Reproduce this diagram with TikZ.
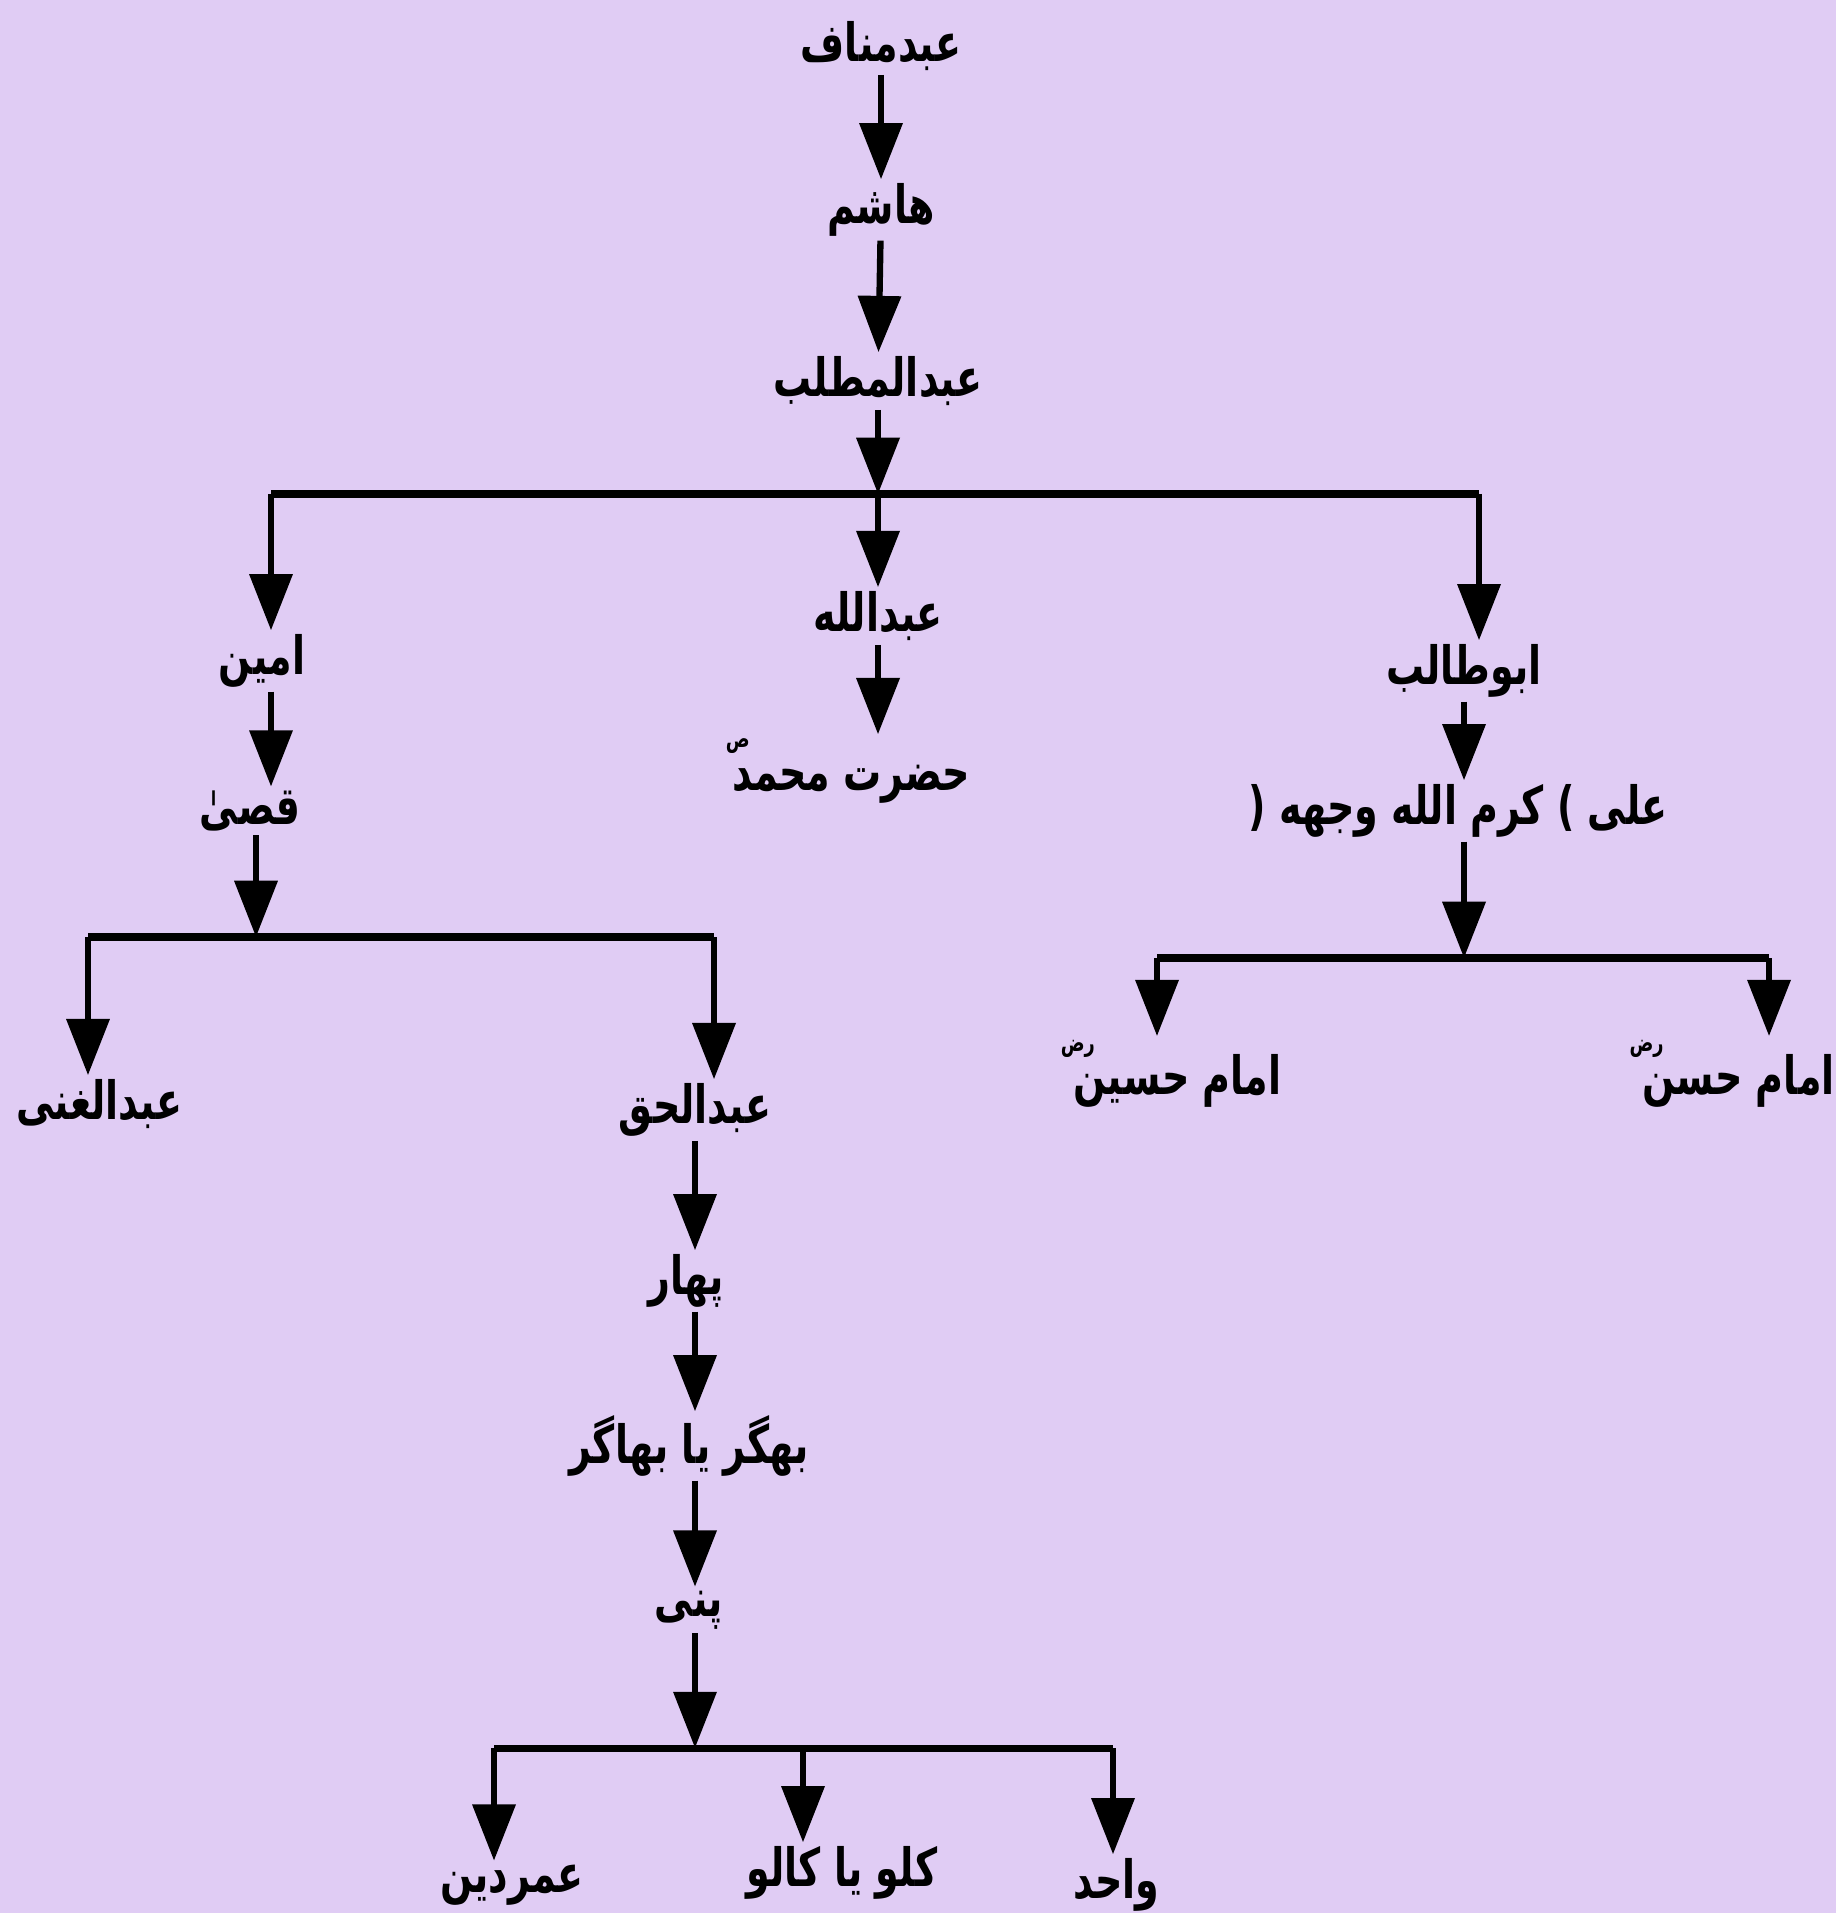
\documentclass[tikz,border=0pt]{standalone}
\usepackage{fontspec}
\newfontfamily\urdufont[Script=Arabic, FakeStretch=0.72]{DejaVu Sans}
\TeXXeTstate=1
\usetikzlibrary{arrows.meta}
\definecolor{lavender}{RGB}{224,204,244}
\newcommand{\sallam}{\kern-5pt\raisebox{1.5ex}{\fontsize{7}{7}\selectfont ص}}
\newcommand{\raziya}{\kern-6pt\raisebox{1.5ex}{\fontsize{7}{7}\selectfont رض}}

\begin{document}
\begin{tikzpicture}[x=0.01cm, y=-0.01cm,
    person/.style={font=\urdufont\bfseries\fontsize{15}{18}\selectfont, inner sep=1pt},
    link/.style={line width=1.8pt, -{Triangle[width=12pt,length=16pt]}},
    bar/.style={line width=2pt}]
    \fill[lavender] (0,0) rectangle (1836,1913);
    \useasboundingbox (0,0) rectangle (1836,1913);
    % main line
    \node[person] (manaf) at (881,46) {\beginR عبدمناف\endR};
    \node[person] (hashim) at (881,210) {\beginR هاشم\endR};
    \node[person] (muttalib) at (878,381) {\beginR عبدالمطلب\endR};
    \coordinate (b1) at (878,494);
    \coordinate (b1l) at (271,494);
    \coordinate (b1r) at (1479,494);
    \draw[link] (manaf) -- (hashim);
    \draw[link] (hashim) -- (muttalib);
    \draw[link] (muttalib) -- (b1);
    \draw[bar] (b1l) -- (b1r);
    % left branch
    \node[person] (amin) at (262,661) {\beginR امین\endR};
    \node[person] (qusai) at (250,811) {\beginR قصیٰ\endR};
    \coordinate (b2) at (256,937);
    \coordinate (b2l) at (88,937);
    \coordinate (b2r) at (714,937);
    \node[person, anchor=west] (ghani) at (12,1104) {\beginR عبدالغنی\endR};
    \node[person] (haq) at (695,1110) {\beginR عبدالحق\endR};
    \node[person] (pahar) at (686,1281) {\beginR پهار\endR};
    \node[person] (bhagar) at (689,1446) {\beginR بھگر یا بھاگر\endR};
    \node[person] (panni) at (689,1610) {\beginR پنی\endR};
    \coordinate (b3) at (695,1748);
    \coordinate (b3l) at (494,1748);
    \coordinate (b3m) at (803,1748);
    \coordinate (b3r) at (1113,1748);
    \node[person] (umardin) at (512,1885) {\beginR عمردین\endR};
    \node[person] (kallu) at (842,1873) {\beginR کلو یا کالو\endR};
    \node[person] (wahid) at (1116,1885) {\beginR واحد\endR};
    \draw[link] (b1l) -- (b1l |- amin.north);
    \draw[link] (amin.south -| b1l) -- (b1l |- qusai.north);
    \draw[link] (qusai.south -| b2) -- (b2);
    \draw[bar] (b2l) -- (b2r);
    \draw[link] (b2l) -- (b2l |- ghani.north);
    \draw[link] (b2r) -- (b2r |- haq.north);
    \draw[link] (haq.south -| b3) -- (b3 |- pahar.north);
    \draw[link] (pahar.south -| b3) -- (b3 |- bhagar.north);
    \draw[link] (bhagar.south -| b3) -- (b3 |- panni.north);
    \draw[link] (panni.south -| b3) -- (b3);
    \draw[bar] (b3l) -- (b3r);
    \draw[link] (b3l) -- (b3l |- umardin.north);
    \draw[link] (b3m) -- (b3m |- kallu.north);
    \draw[link] (b3r) -- (b3r |- wahid.north);
    % middle branch
    \node[person] (abdullah) at (878,616) {\beginR عبدالله\endR};
    \node[person] (muhammad) at (848,771) {\beginR حضرت محمد\sallam\endR};
    \draw[link] (b1) -- (abdullah);
    \draw[link] (abdullah.south) -- (abdullah.south |- muhammad.north);
    % right branch
    \node[person] (abutalib) at (1464,671) {\beginR ابوطالب\endR};
    \node[person] (ali) at (1458,811) {\beginR علی ) کرم الله وجهه (\endR};
    \coordinate (b4) at (1464,958);
    \coordinate (b4l) at (1157,958);
    \coordinate (b4r) at (1769,958);
    \node[person] (husain) at (1171,1074) {\beginR امام حسین\raziya\endR};
    \node[person] (hasan) at (1732,1074) {\beginR امام حسن\raziya\endR};
    \draw[link] (b1r) -- (b1r |- abutalib.north);
    \draw[link] (abutalib.south -| b4) -- (b4 |- ali.north);
    \draw[link] (ali.south -| b4) -- (b4);
    \draw[bar] (b4l) -- (b4r);
    \draw[link] (b4l) -- (b4l |- husain.north);
    \draw[link] (b4r) -- (b4r |- hasan.north);
\end{tikzpicture}
\end{document}
